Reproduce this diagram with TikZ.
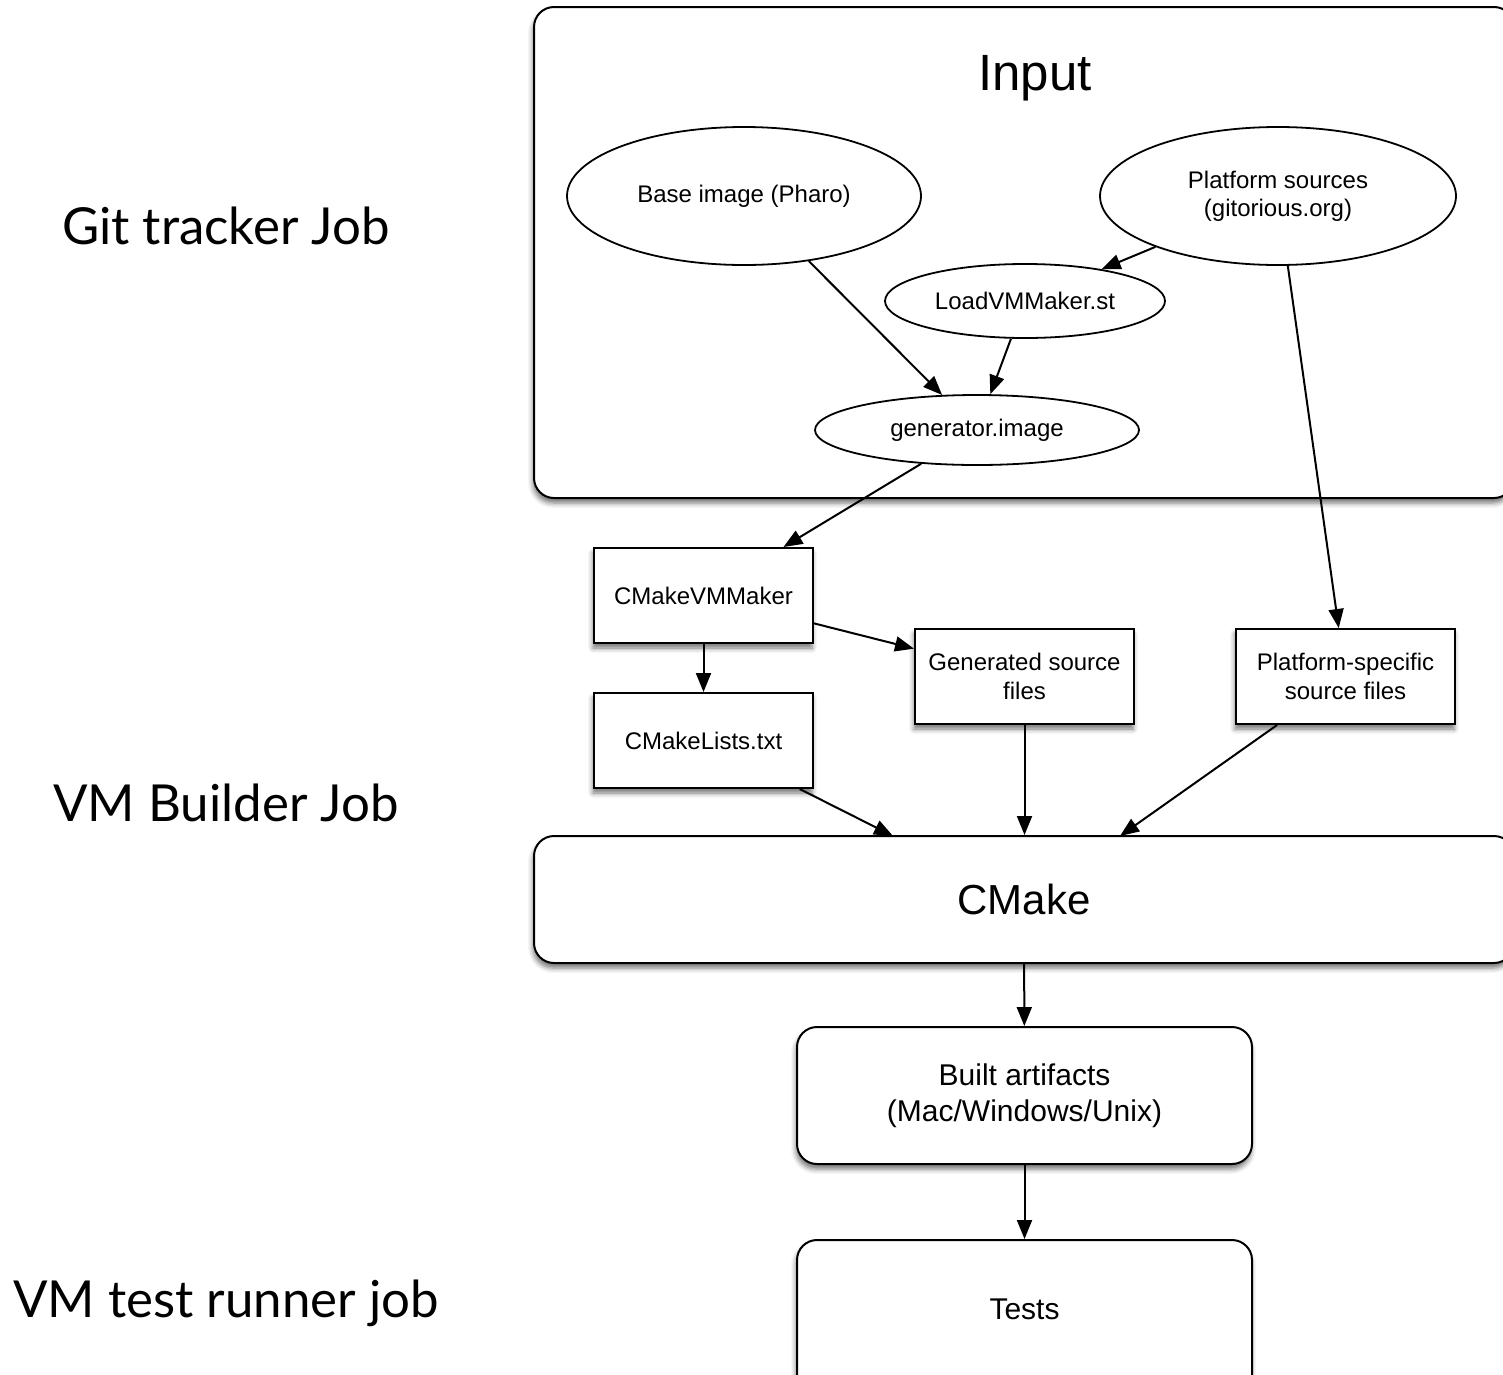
\documentclass[tikz,border=0pt]{standalone}
\usepackage{fontspec}
\setmainfont{Liberation Sans}
\newfontfamily\jobfont{Lato}
\usetikzlibrary{arrows.meta,shapes.geometric,shadows.blur}

\tikzset{
  boxshadow/.style={blur shadow={shadow xshift=-1pt, shadow yshift=-5pt, shadow blur radius=5pt, shadow opacity=55}},
  stage/.style={draw, line width=2pt, rounded corners=20pt, fill=white, boxshadow, inner sep=0pt},
  filebox/.style={draw, line width=2pt, fill=white, boxshadow, inner sep=0pt,
    minimum width=219pt, minimum height=95pt, align=center,
    font=\fontsize{24}{29}\selectfont},
  blob/.style={draw, ellipse, line width=1.8pt, fill=white, inner sep=0pt, align=center,
    font=\fontsize{24}{28}\selectfont},
  flow/.style={line width=2pt, -{Triangle[length=19pt,width=15pt]}},
  joblabel/.style={font=\jobfont\fontsize{51}{58}\selectfont}
}

\begin{document}
\begin{tikzpicture}[x=1pt, y=-1pt]
\useasboundingbox (0,0) rectangle (1503,1374);

% job labels on the left
\node[joblabel] (jgit)  at (226,226)  {Git tracker Job};
\node[joblabel] (jvm)   at (226,803)  {VM Builder Job};
\node[joblabel] (jtest) at (226,1303) {VM test runner job};

% input stage
\node[stage, minimum width=980pt, minimum height=491pt] (input) at (1024,252.5) {};
\node[font=\fontsize{51}{56}\selectfont] (inputtitle) at (1035,78) {Input};

\node[blob, minimum width=354pt, minimum height=138pt] (base) at (744,196) {Base image (Pharo)};
\node[blob, minimum width=356pt, minimum height=138pt] (plat) at (1278,196) {Platform sources\\(gitorious.org)};
\node[blob, minimum width=280pt, minimum height=74pt] (load) at (1025,301) {LoadVMMaker.st};
\node[blob, minimum width=324pt, minimum height=70pt] (gen) at (977,430) {generator.image};

% generated files
\node[filebox] (vmm)   at (703.5,595.5) {CMakeVMMaker};
\node[filebox] (lists) at (703.5,740.5) {CMakeLists.txt};
\node[filebox] (gsrc)  at (1024.5,676.5) {Generated source\\files};
\node[filebox] (psrc)  at (1345.5,676.5) {Platform-specific\\source files};

% build and test stages
\node[stage, minimum width=980pt, minimum height=127pt, font=\fontsize{42}{48}\selectfont] (cmake) at (1024,899.5) {CMake};
\node[stage, minimum width=455pt, minimum height=137pt, align=center, font=\fontsize{30}{36}\selectfont] (built) at (1024.5,1095.5) {Built artifacts\\(Mac/Windows/Unix)};
\node[stage, minimum width=455pt, minimum height=160pt] (tests) at (1024.5,1320) {};
\node[font=\fontsize{30}{34}\selectfont] (teststext) at (1024.5,1309) {Tests};

\coordinate (cin1) at (893,836);
\coordinate (cin3) at (1120,836);

% connectors
\draw[flow] (base) -- (gen);
\draw[flow] (plat) -- (load);
\draw[flow] (load) -- (gen);
\draw[flow] (gen) -- (vmm);
\draw[flow] (plat) -- (psrc);
\draw[flow] (vmm) -- (lists);
\draw[flow] (vmm) -- (gsrc);
\draw[flow] (lists) -- (cin1);
\draw[flow] (gsrc) -- (gsrc |- cmake.north);
\draw[flow] (psrc) -- (cin3);
\draw[flow] (cmake) -- (built);
\draw[flow] (built) -- (tests.north);
\end{tikzpicture}
\end{document}
